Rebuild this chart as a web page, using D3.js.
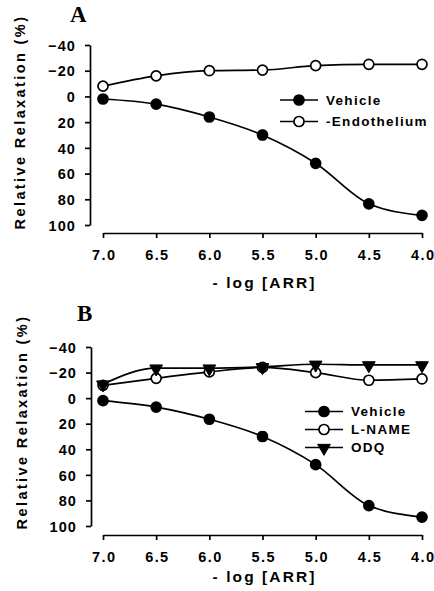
<!DOCTYPE html>
<html>
<head>
<meta charset="utf-8">
<script src="https://cdn.jsdelivr.net/npm/d3@7"></script>
<style>
  body { margin: 0; background: #fff; }
  svg { display: block; }
  text { font-family: "Liberation Sans", Arial, sans-serif; font-weight: bold; fill: #000; }
</style>
</head>
<body>
<script>
// x values: -log [ARR]
var doses = [7.0, 6.5, 6.0, 5.5, 5.0, 4.5, 4.0];
var yTicks = [-40, -20, 0, 20, 40, 60, 80, 100];

// panel A
var aVehicle = [2, 6, 16, 30, 52, 83.5, 92.5];
var aVehicleErr = [0, 0, 1, 3.5, 1.5, 1.5, 0];
var aEndothelium = [-8, -16, -20, -20.5, -24, -25, -25];

// panel B
var bVehicle = [2, 7, 16.5, 30, 52, 84, 93];
var bVehicleErr = [0, 0, 1, 3.5, 1.5, 1.5, 0];
var bLname = [-10, -15.5, -20.5, -24, -20, -14, -15];
var bOdq = [-11, -23.5, -23.5, -24.5, -26.5, -26, -26];

var W = 434, H = 591;

var svg = d3.select("body").append("svg")
  .attr("width", W)
  .attr("height", H);

function drawPanel(cfg) {
  var g = svg.append("g");

  var x = d3.scaleLinear().domain([7.0, 4.0]).range([cfg.x0, cfg.x1]);
  var y = d3.scaleLinear().domain([-40, 100]).range([cfg.yTop, cfg.yBot]);

  // y axis
  var yAxis = d3.axisLeft(y).tickValues(yTicks).tickSize(5).tickSizeOuter(0).tickPadding(9);
  var ya = g.append("g")
    .attr("transform", "translate(" + cfg.yAxisX + ",0)")
    .call(yAxis);
  ya.selectAll("path, line").attr("stroke", "#000").attr("stroke-width", 1.7);
  ya.selectAll("text")
    .style("font-size", "14.5px")
    .style("letter-spacing", "1.1px")
    .attr("dy", "0.36em");

  // x axis (offset below the plot)
  var xAxis = d3.axisBottom(x).tickValues(doses).tickFormat(d3.format(".1f"))
    .tickSize(5).tickSizeOuter(0).tickPadding(12);
  var xa = g.append("g")
    .attr("transform", "translate(0," + cfg.xAxisY + ")")
    .call(xAxis);
  xa.selectAll("path, line").attr("stroke", "#000").attr("stroke-width", 1.7);
  xa.selectAll("text")
    .style("font-size", "14.5px")
    .style("letter-spacing", "1.4px")
    .attr("dx", "0.7px");

  // axis titles
  g.append("text")
    .attr("x", (cfg.x0 + cfg.x1) / 2 + 2)
    .attr("y", cfg.xTitleY)
    .attr("text-anchor", "middle")
    .style("font-size", "15.5px")
    .style("letter-spacing", "2.1px")
    .text("- log [ARR]");

  g.append("text")
    .attr("transform", "translate(" + cfg.yTitleX + "," + cfg.yTitleY + ") rotate(-90)")
    .attr("text-anchor", "middle")
    .style("font-size", "14.5px")
    .style("letter-spacing", "2.4px")
    .text("Relative Relaxation (%)");

  // panel letter
  g.append("text")
    .attr("x", cfg.letterX)
    .attr("y", cfg.letterY)
    .style("font-family", "'Liberation Serif', 'Times New Roman', serif")
    .style("font-size", "23px")
    .text(cfg.letter);

  var line = d3.line()
    .x(function (d) { return x(d.dose); })
    .y(function (d) { return y(d.v); })
    .curve(d3.curveMonotoneX);

  cfg.series.forEach(function (s) {
    var pts = doses.map(function (d, i) {
      return { dose: d, v: s.values[i], err: s.err ? s.err[i] : 0 };
    });

    g.append("path")
      .datum(pts)
      .attr("fill", "none")
      .attr("stroke", "#000")
      .attr("stroke-width", 1.7)
      .attr("d", line);

    // error bars
    g.selectAll(null)
      .data(pts.filter(function (p) { return p.err > 0; }))
      .enter().append("line")
      .attr("x1", function (p) { return x(p.dose); })
      .attr("x2", function (p) { return x(p.dose); })
      .attr("y1", function (p) { return y(p.v - p.err); })
      .attr("y2", function (p) { return y(p.v + p.err); })
      .attr("stroke", "#000")
      .attr("stroke-width", 2);
    g.selectAll(null)
      .data(pts.filter(function (p) { return p.err > 0; }))
      .enter().append("path")
      .attr("d", function (p) {
        var cx = x(p.dose), t = y(p.v - p.err), b = y(p.v + p.err);
        return "M" + (cx - 3) + "," + t + "H" + (cx + 3) + "M" + (cx - 3) + "," + b + "H" + (cx + 3);
      })
      .attr("stroke", "#000")
      .attr("stroke-width", 1.6);

    drawMarkers(g, pts.map(function (p) { return [x(p.dose), y(p.v)]; }), s.marker);
  });

  // legend
  var lg = g.append("g");
  cfg.series.forEach(function (s, i) {
    var ly = cfg.legY + i * cfg.legStep;
    lg.append("line")
      .attr("x1", cfg.legX).attr("x2", cfg.legX + 38)
      .attr("y1", ly).attr("y2", ly)
      .attr("stroke", "#000").attr("stroke-width", 1.7);
    drawMarkers(lg, [[cfg.legX + 19, ly]], s.marker);
    lg.append("text")
      .attr("x", cfg.legX + 46)
      .attr("y", ly)
      .attr("dy", "0.36em")
      .style("font-size", "13.5px")
      .style("letter-spacing", "1.3px")
      .text(s.name);
  });
}

function drawMarkers(g, xy, marker) {
  if (marker === "triangle") {
    var sym = d3.symbol().type(d3.symbolTriangle).size(70);
    g.selectAll(null).data(xy).enter().append("path")
      .attr("d", sym)
      .attr("transform", function (p) { return "translate(" + p[0] + "," + (p[1] + 0.5) + ") rotate(180)"; })
      .attr("fill", "#000")
      .attr("stroke", "#000")
      .attr("stroke-width", 1);
  } else {
    g.selectAll(null).data(xy).enter().append("circle")
      .attr("cx", function (p) { return p[0]; })
      .attr("cy", function (p) { return p[1]; })
      .attr("r", 5)
      .attr("fill", marker === "open" ? "#fff" : "#000")
      .attr("stroke", "#000")
      .attr("stroke-width", 1.7);
  }
}

drawPanel({
  letter: "A", letterX: 70, letterY: 22,
  x0: 103, x1: 422, yTop: 45, yBot: 225,
  yAxisX: 90, xAxisY: 233, xTitleY: 288,
  yTitleX: 25, yTitleY: 122,
  legX: 280, legY: 100, legStep: 21.5,
  series: [
    { name: "Vehicle", values: aVehicle, err: aVehicleErr, marker: "filled" },
    { name: "-Endothelium", values: aEndothelium, marker: "open" }
  ]
});

drawPanel({
  letter: "B", letterX: 77, letterY: 321,
  x0: 103, x1: 422, yTop: 347, yBot: 526,
  yAxisX: 91, xAxisY: 535, xTitleY: 582,
  yTitleX: 27, yTitleY: 422,
  legX: 305, legY: 411.5, legStep: 18,
  series: [
    { name: "Vehicle", values: bVehicle, err: bVehicleErr, marker: "filled" },
    { name: "L-NAME", values: bLname, marker: "open" },
    { name: "ODQ", values: bOdq, marker: "triangle" }
  ]
});
</script>
</body>
</html>
